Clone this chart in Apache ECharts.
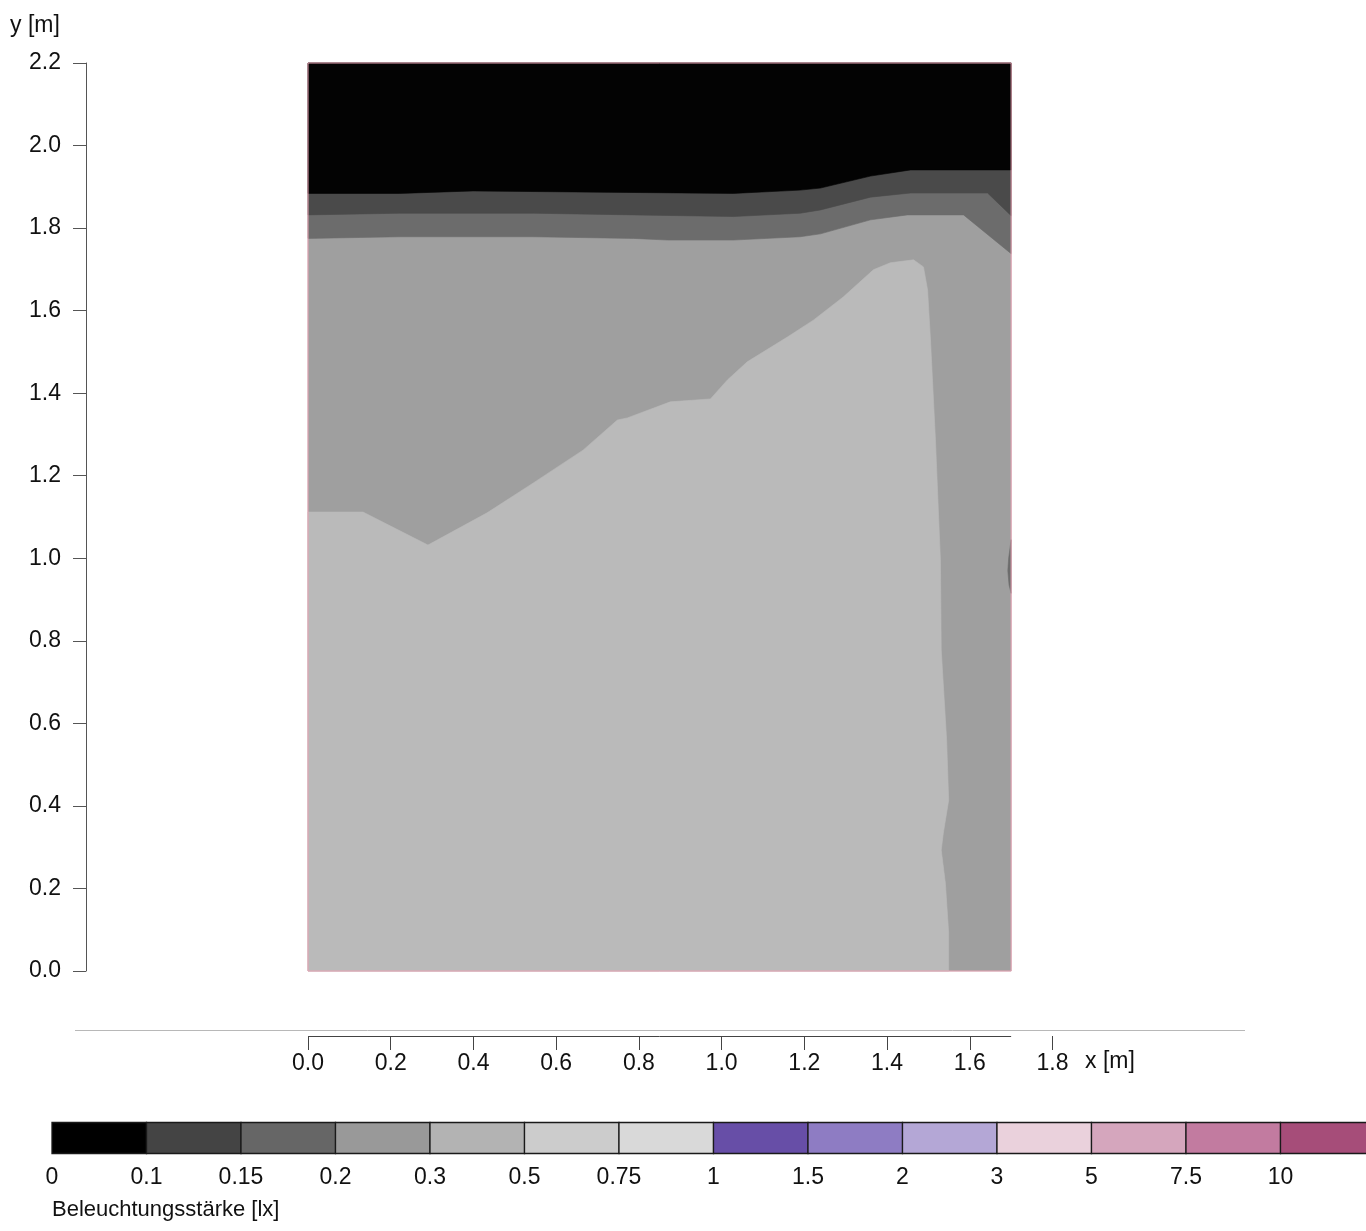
<!DOCTYPE html>
<html>
<head>
<meta charset="utf-8">
<title>Beleuchtungsstärke</title>
<script src="https://cdn.jsdelivr.net/npm/echarts@6/dist/echarts.min.js"></script>
<style>
  html, body { margin: 0; padding: 0; background: #ffffff; }
  #chart { width: 1366px; height: 1231px; }
</style>
</head>
<body>
<div id="chart"></div>
<script>
// Illuminance classes [lx] and the colour of each class in the legend bar
const levelBreaks = ['0', '0.1', '0.15', '0.2', '0.3', '0.5', '0.75', '1', '1.5', '2', '3', '5', '7.5', '10'];
const levelColors = ['#000000', '#444444', '#666666', '#999999', '#b3b3b3', '#cccccc', '#d9d9d9',
                     '#674ea7', '#8e7cc3', '#b4a7d6', '#ead1dc', '#d5a6bd', '#c27ba0', '#a64d79'];
// Shades of classes 0..4 as they appear inside the measured field
const fieldShades = ['#030303', '#4a4a4a', '#6c6c6c', '#9f9f9f', '#bababa'];

// Extent of the measured area [m]
const areaX = [0, 1.7];
const areaY = [0, 2.2];

// Isolines [x m, y m]
const iso010 = [[0, 1.884], [0.222, 1.884], [0.399, 1.890], [0.706, 1.887], [1.028, 1.884],
                [1.19, 1.892], [1.239, 1.897], [1.36, 1.926], [1.457, 1.941], [1.7, 1.941]];
const iso015 = [[0, 1.832], [0.222, 1.836], [0.545, 1.836], [0.787, 1.832], [1.028, 1.828],
                [1.19, 1.836], [1.239, 1.844], [1.36, 1.875], [1.457, 1.885], [1.643, 1.885], [1.7, 1.83]];
const iso020 = [[0, 1.775], [0.222, 1.779], [0.545, 1.779], [0.787, 1.775], [0.87, 1.771], [1.028, 1.771],
                [1.19, 1.779], [1.239, 1.786], [1.36, 1.82], [1.449, 1.832], [1.585, 1.832], [1.7, 1.738]];
const iso030 = [[0, 1.112], [0.133, 1.112], [0.29, 1.032], [0.433, 1.11], [0.544, 1.182], [0.665, 1.262],
                [0.748, 1.335], [0.772, 1.34], [0.876, 1.379], [0.973, 1.386], [1.014, 1.432], [1.062, 1.476],
                [1.159, 1.536], [1.222, 1.577], [1.294, 1.633], [1.367, 1.699], [1.408, 1.716], [1.464, 1.723],
                [1.488, 1.706], [1.498, 1.65], [1.505, 1.529], [1.517, 1.287], [1.529, 0.996], [1.531, 0.778],
                [1.544, 0.56], [1.549, 0.414], [1.536, 0.334], [1.531, 0.293], [1.541, 0.213], [1.549, 0.092],
                [1.549, 0]];
// Small pocket of class 2 at the right edge
const pocket020 = [[1.7, 1.045], [1.694, 1.0], [1.692, 0.97], [1.695, 0.935], [1.7, 0.915]];

// Axis tick spacing
const xTickStep = 0.2;
const xAxisMax = 1.8;
const yTickStep = 0.2;

const FONT = '"Liberation Sans", Arial, Helvetica, sans-serif';
const TEXT = '#111111';

// Filled areas, painted from the lowest class upwards
const xr = areaX[1], yt = areaY[1];
const regions = [
  { cls: 3, pts: [[0, 0], [xr, 0], [xr, yt], [0, yt]] },
  { cls: 4, pts: [[0, 0]].concat(iso030) },
  { cls: 2, pts: iso020.concat([[xr, yt], [0, yt]]) },
  { cls: 1, pts: iso015.concat([[xr, yt], [0, yt]]) },
  { cls: 0, pts: iso010.concat([[xr, yt], [0, yt]]) },
  { cls: 2, pts: pocket020 }
];

const chart = echarts.init(document.getElementById('chart'), null, { renderer: 'canvas' });

const option = {
  animation: false,
  backgroundColor: '#ffffff',
  textStyle: { fontFamily: FONT },
  grid: [
    { left: 308, top: 63, width: 744.5, height: 908, outerBoundsMode: 'none' },
    { left: 52, top: 1122.5, width: 94.5 * levelBreaks.length, height: 31, outerBoundsMode: 'none' }
  ],
  xAxis: [
    {
      gridIndex: 0, type: 'value', min: 0, max: xAxisMax, interval: xTickStep,
      offset: 65,
      axisLine: { show: false, onZero: false },
      axisTick: { show: true, length: 14, lineStyle: { color: '#444444', width: 1 } },
      splitLine: { show: false },
      axisLabel: {
        margin: 16, fontSize: 23, color: TEXT, fontFamily: FONT,
        formatter: v => v.toFixed(1)
      }
    },
    {
      gridIndex: 1, type: 'value', min: 0, max: levelBreaks.length, interval: 1,
      axisLine: { show: false, onZero: false }, axisTick: { show: false }, splitLine: { show: false },
      axisLabel: {
        margin: 13, fontSize: 23, color: TEXT, fontFamily: FONT,
        formatter: v => (levelBreaks[v] !== undefined ? levelBreaks[v] : '')
      }
    }
  ],
  yAxis: [
    {
      gridIndex: 0, type: 'value', min: 0, max: areaY[1], interval: yTickStep,
      offset: 222,
      axisLine: { show: true, onZero: false, lineStyle: { color: '#555555', width: 1 } },
      axisTick: { show: true, length: 13, lineStyle: { color: '#555555', width: 1 } },
      splitLine: { show: false },
      axisLabel: {
        margin: 25, fontSize: 23, color: TEXT, fontFamily: FONT,
        formatter: v => v.toFixed(1)
      }
    },
    { gridIndex: 1, type: 'value', min: 0, max: 1, show: false }
  ],
  series: [
    {
      // illuminance field
      type: 'custom', xAxisIndex: 0, yAxisIndex: 0, silent: true,
      data: regions.map((r, i) => [i]),
      renderItem: (params, api) => {
        const r = regions[params.dataIndex];
        return {
          type: 'polygon',
          shape: { points: r.pts.map(p => api.coord(p)) },
          style: { fill: fieldShades[r.cls], stroke: fieldShades[r.cls], lineWidth: 0.6 }
        };
      }
    },
    {
      // outline of the measured area and the x axis line under it
      type: 'custom', xAxisIndex: 0, yAxisIndex: 0, silent: true, clip: false,
      data: [[0]],
      renderItem: (params, api) => {
        const tl = api.coord([areaX[0], areaY[1]]);
        const br = api.coord([areaX[1], areaY[0]]);
        const axisY = Math.round(br[1]) + 65 + 0.5;
        return {
          type: 'group',
          children: [
            {
              type: 'rect',
              shape: { x: tl[0], y: tl[1], width: br[0] - tl[0], height: br[1] - tl[1] },
              style: { fill: null, stroke: '#e9a2b3', lineWidth: 1 }
            },
            {
              type: 'line',
              shape: { x1: tl[0], y1: axisY, x2: br[0], y2: axisY },
              style: { stroke: '#444444', lineWidth: 1 }
            }
          ]
        };
      }
    },
    {
      // colour scale bar
      type: 'custom', xAxisIndex: 1, yAxisIndex: 1, silent: true, clip: false,
      data: levelColors.map((c, i) => [i]),
      renderItem: (params, api) => {
        const i = params.dataIndex;
        const p0 = api.coord([i, 1]);
        const p1 = api.coord([i + 1, 0]);
        return {
          type: 'rect',
          shape: { x: p0[0], y: p0[1], width: p1[0] - p0[0], height: p1[1] - p0[1] },
          style: { fill: levelColors[i], stroke: '#1a1a1a', lineWidth: 1.3 }
        };
      }
    }
  ],
  graphic: [
    {
      type: 'line', silent: true,
      shape: { x1: 75, y1: 1030.5, x2: 1245, y2: 1030.5 },
      style: { stroke: '#b8b8b8', lineWidth: 1 }
    },
    {
      type: 'text', left: 10, top: 14, silent: true,
      style: { text: 'y [m]', fontSize: 23, fontFamily: FONT, fill: TEXT }
    },
    {
      type: 'text', left: 1085, top: 1050, silent: true,
      style: { text: 'x [m]', fontSize: 23, fontFamily: FONT, fill: TEXT }
    },
    {
      type: 'text', left: 52, top: 1199, silent: true,
      style: { text: 'Beleuchtungsstärke [lx]', fontSize: 22, fontFamily: FONT, fill: TEXT }
    }
  ]
};

chart.setOption(option);
</script>
</body>
</html>
